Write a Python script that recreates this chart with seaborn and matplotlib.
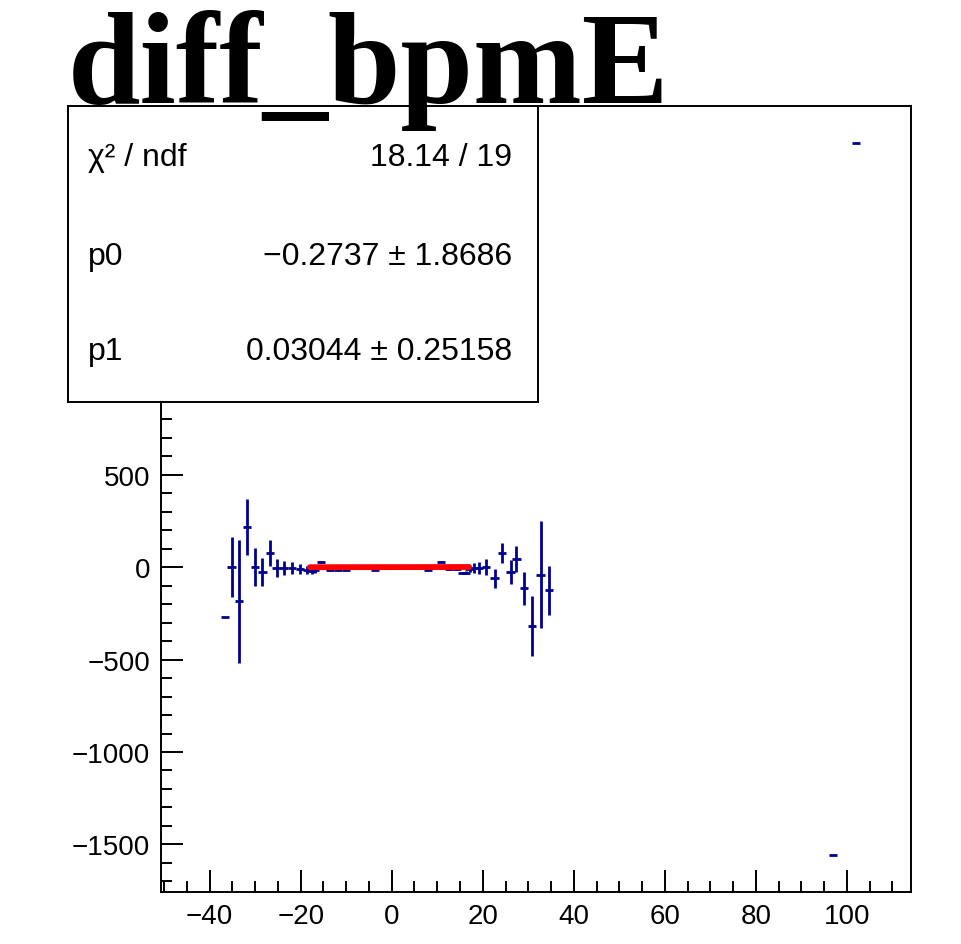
import numpy as np
import pandas as pd
import matplotlib
matplotlib.use("Agg")
import matplotlib.pyplot as plt
import seaborn as sns
from matplotlib.ticker import MultipleLocator

sns.set_style("ticks")
plt.rcParams['font.family'] = ['Liberation Sans', 'DejaVu Sans']
plt.rcParams['text.color'] = 'black'

# --- data ---
bin_x = [-36.7, -35.2, -33.6, -31.8, -30.1, -28.4, -26.7, -25.3, -23.6, -21.9,
         -20.2, -18.7, -17.6, -16.9, -15.5, -13.6, -11.8, -10.1, -3.7, 8.0,
         10.9, 12.6, 14.4, 15.5, 16.4, 17.1, 18.0, 19.2, 20.8, 22.6,
         24.2, 26.1, 27.4, 29.1, 30.8, 32.7, 34.5, 97.0, 102.0]
diff_val = [-269, 0, -186, 216, 0, -27, 76, -4, -5, -5,
            -10, -15, -20, -18, 27, -18, -18, -14, -14, -14,
            30, -12, -12, -31, -31, -12, -5, -5, 0, -60,
            75, -27, 45, -115, -317, -42, -126, -1555, 2294]
diff_err = [0, 162, 333, 153, 103, 74, 68, 49, 40, 35,
            25, 20, 15, 12, 5, 4, 4, 3, 3, 3,
            4, 3, 4, 6, 8, 15, 27, 30, 45, 52,
            54, 63, 70, 90, 162, 290, 132, 0, 0]
bin_halfwidth = 0.9

fit_x = [-18.0, 17.0]
fit_y = [-0.8, 0.2]

stat_names = ["\u03c7\u00b2 / ndf", "p0", "p1"]
stat_values = ["18.14 / 19", "\u22120.2737 \u00b1 1.8686", "0.03044 \u00b1 0.25158"]

df = pd.DataFrame({"x": bin_x, "y": diff_val, "err": diff_err})
fit_df = pd.DataFrame({"x": fit_x, "y": fit_y})

fig = plt.figure(figsize=(9.61, 9.45), dpi=100)
ax = fig.add_axes([161 / 961, 1 - 893 / 945, 750 / 961, 786 / 945])

ax.errorbar(df["x"], df["y"], yerr=df["err"], xerr=bin_halfwidth,
            fmt="none", ecolor="#00008f", elinewidth=2.0, capsize=0)
sns.lineplot(data=fit_df, x="x", y="y", color="red", linewidth=4.2, ax=ax)

ax.set_xlim(-50.7, 114.1)
ax.set_ylim(-1757, 2493)
ax.set_xlabel("")
ax.set_ylabel("")

ax.xaxis.set_major_locator(MultipleLocator(20))
ax.xaxis.set_minor_locator(MultipleLocator(5))
ax.yaxis.set_major_locator(MultipleLocator(500))
ax.yaxis.set_minor_locator(MultipleLocator(100))
ax.tick_params(which="both", direction="in", top=False, right=False,
               width=1.4, labelsize=20, pad=8, colors="black")
ax.tick_params(which="major", length=16)
ax.tick_params(which="minor", length=8)
for sp in ax.spines.values():
    sp.set_linewidth(1.4)
    sp.set_color("black")

# title
fig.text(68 / 961, 1 - 103 / 945, "diff_bpmE", family=["Liberation Serif", "DejaVu Serif"],
         fontweight="bold", fontsize=94, va="baseline", ha="left", color="black")

# stats box
box = fig.add_axes([68 / 961, 1 - 403 / 945, 470 / 961, 296 / 945])
box.set_xticks([])
box.set_yticks([])
box.set_facecolor("white")
for sp in box.spines.values():
    sp.set_linewidth(1.4)
    sp.set_color("black")
    sp.set_visible(True)
row_y = [158, 257, 352]
for name, val, py in zip(stat_names, stat_values, row_y):
    yy = (403 - py) / 296
    box.text(20 / 470, yy, name, fontsize=23, va="center", ha="left",
             color="black", transform=box.transAxes)
    box.text(444 / 470, yy, val, fontsize=23, va="center", ha="right",
             color="black", transform=box.transAxes)

fig.savefig("out.png", dpi=100)
